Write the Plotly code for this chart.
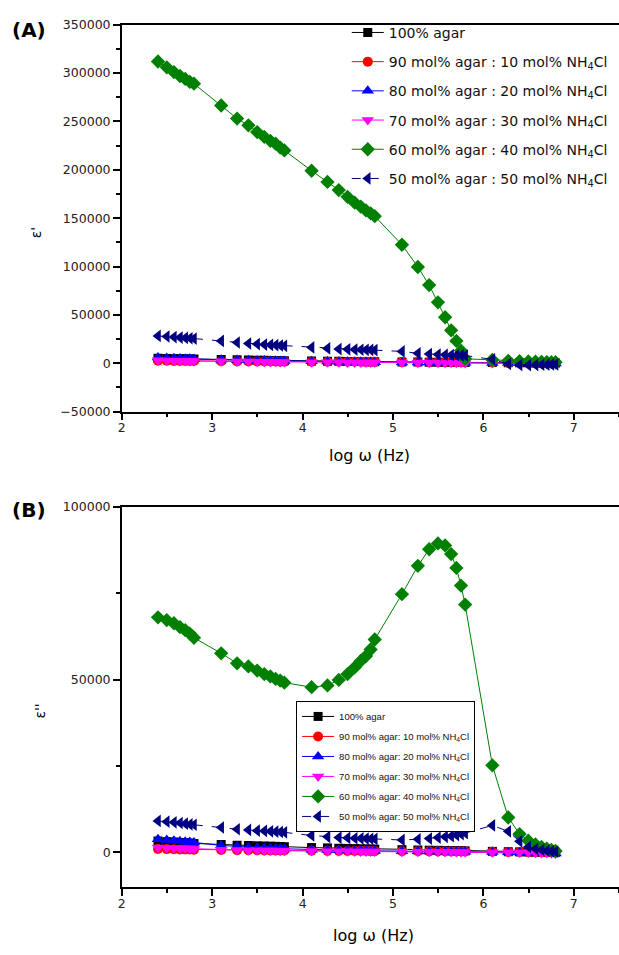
import plotly.graph_objects as go

# log omega (Hz) – shared frequency points
log_w = [2.400, 2.497, 2.576, 2.643, 2.701, 2.752, 2.798,
         3.099, 3.275,
         3.400, 3.497, 3.576, 3.643, 3.701, 3.752, 3.798,
         4.099, 4.275,
         4.400, 4.497, 4.576, 4.643, 4.701, 4.752, 4.798,
         5.099, 5.275,
         5.400, 5.497, 5.576, 5.643, 5.701, 5.752, 5.798,
         6.099, 6.275,
         6.400, 6.497, 6.576, 6.643, 6.701, 6.752, 6.798]

names_A = ["100% agar",
           "90 mol% agar : 10 mol% NH<sub>4</sub>Cl",
           "80 mol% agar : 20 mol% NH<sub>4</sub>Cl",
           "70 mol% agar : 30 mol% NH<sub>4</sub>Cl",
           "60 mol% agar : 40 mol% NH<sub>4</sub>Cl",
           "50 mol% agar : 50 mol% NH<sub>4</sub>Cl"]
names_B = ["100% agar",
           "90 mol% agar: 10 mol% NH<sub>4</sub>Cl",
           "80 mol% agar: 20 mol% NH<sub>4</sub>Cl",
           "70 mol% agar: 30 mol% NH<sub>4</sub>Cl",
           "60 mol% agar: 40 mol% NH<sub>4</sub>Cl",
           "50 mol% agar: 50 mol% NH<sub>4</sub>Cl"]

# (A) real permittivity eps'
eps1_agar100 = [5200, 4900, 4700, 4600, 4500, 4400, 4300, 3800, 3500, 3300, 3100, 3000, 2900, 2800, 2700, 2600,
                2300, 2100, 1900, 1800, 1700, 1650, 1600, 1550, 1500, 1300, 1200, 1100, 1000, 950, 900, 850, 800,
                800, 600, 500, 400, 350, 300, 280, 250, 220, 200]
eps1_nh10 = [2600, 2500, 2400, 2350, 2300, 2250, 2200, 2000, 1900, 1850, 1800, 1750, 1700, 1700, 1650, 1650,
             1600, 1550, 1500, 1500, 1450, 1450, 1400, 1400, 1400, 1300, 1250, 1200, 1150, 1100, 1100, 1050, 1000,
             1000, 800, 600, 500, 450, 400, 350, 300, 300, 250]
eps1_nh20 = [5800, 5400, 5100, 4900, 4700, 4500, 4400, 3700, 3300, 3100, 2900, 2700, 2600, 2500, 2400, 2300,
             1900, 1700, 1500, 1400, 1300, 1200, 1150, 1100, 1000, 800, 700, 600, 550, 500, 450, 400, 400,
             350, 200, 100, 0, -100, -100, -150, -150, -200, -200]
eps1_nh30 = [3000, 2800, 2600, 2500, 2400, 2350, 2300, 2000, 1800, 1700, 1600, 1500, 1450, 1400, 1350, 1300,
             1100, 1000, 900, 850, 800, 780, 750, 720, 700, 600, 550, 500, 450, 420, 400, 380, 350,
             330, 200, 100, 0, -100, -150, -200, -200, -250, -250]
eps1_nh40 = [312000, 306000, 301000, 297000, 294000, 291000, 289000, 266500, 253000, 246000, 239000, 234000,
             230000, 227000, 223000, 220000, 199000, 187500, 179000, 172000, 166000, 162000, 158000, 155000,
             152000, 122500, 99500, 80800, 63000, 47500, 34000, 23000, 13000, 4500, 3500, 2500, 2000, 1800,
             1600, 1400, 1200, 1100, 1000]
eps1_nh50 = [28200, 27600, 27000, 26500, 26100, 25800, 25500, 23000, 21400, 20400, 19800, 19300, 18900, 18600,
             18300, 18000, 16300, 15300, 14600, 14300, 14100, 13900, 13800, 13700, 13600, 12200, 10200, 9500,
             9000, 8700, 8400, 8200, 8000, 7900, 4000, -800, -1800, -2000, -1800, -1600, -1500, -1300, -1200]

# (B) imaginary permittivity eps''
eps2_agar100 = [3300, 3100, 3000, 2900, 2800, 2700, 2600, 2300, 2100, 2000, 1900, 1850, 1800, 1750, 1700, 1650,
                1400, 1300, 1200, 1150, 1100, 1050, 1000, 980, 950, 800, 700, 650, 600, 570, 540, 510, 480,
                450, 300, 200, 150, 120, 100, 80, 60, 50, 40]
eps2_nh10 = [1000, 950, 900, 870, 850, 830, 800, 700, 650, 620, 600, 580, 560, 550, 540, 530, 480, 450, 430,
             420, 410, 400, 390, 380, 370, 330, 310, 300, 290, 280, 270, 260, 250, 240, 200, 150, 100, 80, 60,
             50, 40, 30, 20]
eps2_nh20 = [3800, 3600, 3400, 3200, 3100, 3000, 2900, 2000, 1700, 1500, 1400, 1300, 1200, 1150, 1100, 1050,
             800, 700, 600, 550, 500, 480, 460, 440, 420, 350, 300, 280, 250, 230, 210, 200, 190, 180, 100, 50,
             0, -100, -150, -200, -250, -250, -300]
eps2_nh30 = [1400, 1300, 1200, 1150, 1100, 1050, 1000, 800, 700, 650, 600, 570, 540, 520, 500, 480, 400, 350,
             320, 300, 290, 280, 270, 260, 250, 220, 200, 190, 180, 170, 160, 150, 140, 130, 80, 40, 0, -50,
             -100, -150, -200, -250, -300]
eps2_nh40 = [68000, 67200, 66300, 65200, 64300, 63300, 62100, 57600, 54700, 53800, 52600, 51600, 50900, 50200,
             49700, 49100, 47800, 48300, 49900, 51600, 53500, 55400, 56800, 58700, 61600, 74700, 82900, 87700,
             89400, 88800, 86300, 82300, 77200, 71700, 25200, 10100, 5300, 3400, 2300, 1600, 1100, 700, 400]
eps2_nh50 = [9100, 8900, 8700, 8500, 8300, 8100, 8000, 7200, 6700, 6500, 6300, 6200, 6100, 6000, 5900, 5800,
             4900, 4500, 4300, 4200, 4100, 4050, 4000, 3950, 3900, 3600, 3800, 4000, 4300, 4500, 4700, 5000,
             5300, 5600, 7800, 6100, 3200, 1600, 1000, 700, 500, 300, 200]

colors = ["#000000", "#ff0000", "#0000ff", "#ff00ff", "#008000", "#000080"]
symbols = ["square", "circle", "triangle-up", "triangle-down", "diamond", "triangle-left"]
msizes = [9, 10, 11, 11, 11, 11]
dashes = ["solid", "solid", "solid", "solid", "solid", "dash"]

series_A = [eps1_agar100, eps1_nh10, eps1_nh20, eps1_nh30, eps1_nh40, eps1_nh50]
series_B = [eps2_agar100, eps2_nh10, eps2_nh20, eps2_nh30, eps2_nh40, eps2_nh50]

W, H = 619, 955
fig = go.Figure()

for i in range(6):
    fig.add_trace(go.Scatter(
        x=log_w, y=series_A[i], name=names_A[i], mode="lines+markers",
        xaxis="x", yaxis="y", legend="legend", legendgroup="a%d" % i,
        line=dict(color=colors[i], width=1, dash=dashes[i]),
        marker=dict(symbol=symbols[i], size=msizes[i], color=colors[i], line=dict(width=0))))

for i in range(6):
    fig.add_trace(go.Scatter(
        x=log_w, y=series_B[i], name=names_B[i], mode="lines+markers",
        xaxis="x2", yaxis="y2", legend="legend2", legendgroup="b%d" % i,
        line=dict(color=colors[i], width=1, dash=dashes[i]),
        marker=dict(symbol=symbols[i], size=msizes[i], color=colors[i], line=dict(width=0))))

tickfont = dict(family="DejaVu Sans", size=12.5, color="#222")
axis_common = dict(showgrid=False, zeroline=False, showline=True, linecolor="black", linewidth=1.5,
                   ticks="outside", ticklen=7, tickwidth=1.5, tickcolor="black", tickfont=tickfont)


def px_x(p):
    return p / W


def px_y(p):
    return 1 - p / H


def ann(text, x, y, size, angle=0):
    return dict(text=text, x=px_x(x), y=px_y(y), xref="paper", yref="paper", showarrow=False,
                xanchor="center", yanchor="middle", textangle=angle,
                font=dict(family="DejaVu Sans", size=size, color="black"))


fig.update_layout(
    width=W, height=H, margin=dict(l=0, r=0, t=0, b=0),
    paper_bgcolor="white", plot_bgcolor="white",
    xaxis=dict(domain=[px_x(118.6), 1], range=[2, 7.5], anchor="y", dtick=1, mirror=True,
               ticklabelstandoff=-3,
               minor=dict(dtick=0.5, ticks="outside", ticklen=4, tickcolor="black"), **axis_common),
    yaxis=dict(domain=[px_y(410), px_y(17)], range=[-50000, 350000], anchor="x", dtick=50000,
               tickformat="d",
               minor=dict(dtick=25000, ticks="outside", ticklen=4, tickcolor="black"), **axis_common),
    xaxis2=dict(domain=[px_x(118.6), 1], range=[2, 7.5], anchor="y2", dtick=1, mirror=True,
                ticklabelstandoff=-3,
                minor=dict(dtick=0.5, ticks="outside", ticklen=4, tickcolor="black"), **axis_common),
    yaxis2=dict(domain=[px_y(893), px_y(506.7)], range=[-10000, 100000], anchor="x2",
                tickvals=[0, 50000, 100000], ticktext=["0", "50000", "100000"],
                minor=dict(tickvals=[25000, 75000], ticks="outside", ticklen=4, tickcolor="black"),
                **axis_common),
    legend=dict(x=px_x(345), y=px_y(9), xanchor="left", yanchor="top", bgcolor="rgba(0,0,0,0)",
                borderwidth=0, font=dict(family="DejaVu Sans", size=14, color="#111"),
                tracegroupgap=8, itemwidth=32),
    legend2=dict(x=px_x(294), y=px_y(704), xanchor="left", yanchor="top", bgcolor="white",
                 bordercolor="black", borderwidth=1,
                 font=dict(family="Liberation Sans", size=9.5, color="#111"),
                 tracegroupgap=1, itemwidth=32),
    showlegend=True,
    annotations=[
        ann("<b>(A)</b>", 25, 22, 20),
        ann("<b>(B)</b>", 25, 510, 20),
        ann("ε'", 33, 228, 14, -90),
        ann("ε''", 36, 714, 14, -90),
        ann("log ω (Hz)", 368, 455, 16),
        ann("log ω (Hz)", 372, 942, 16),
    ],
)

fig.write_html("out.html")
